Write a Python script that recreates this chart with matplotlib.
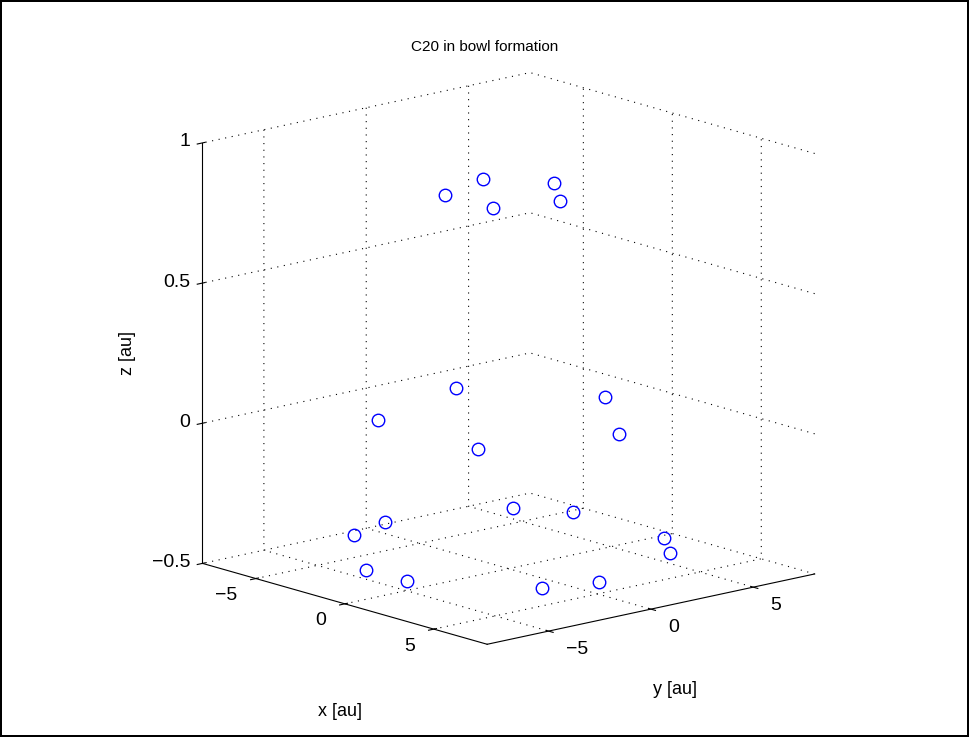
import matplotlib
matplotlib.use('Agg')
import matplotlib.pyplot as plt
from matplotlib.transforms import offset_copy

# C20 bowl atom positions [au]
x_top = [-1.34, -2.19, 1.29, -0.02, 2.14]
y_top = [-1.92, 0.64, -1.88, 2.22, 0.65]
z_top = [0.84, 0.84, 0.84, 0.84, 0.84]

x_mid = [-4.59, -2.83, 2.79, 0.00, 4.51]
y_mid = [1.42, -3.93, -3.91, 4.73, 1.47]
z_mid = [0.04, 0.04, 0.04, 0.04, 0.04]

x_rim = [-4.47, -2.59, -6.03, -5.32, -1.14, 1.15, 5.24, 5.93, 2.52, 4.33]
y_rim = [4.10, 5.41, -0.78, -2.95, -5.98, -5.97, -2.94, -0.75, 5.40, 4.10]
z_rim = [-0.43, -0.43, -0.43, -0.43, -0.43, -0.43, -0.43, -0.43, -0.43, -0.43]

xticks = [-5, 0, 5]
yticks = [-5, 0, 5]
zticks = [-0.5, 0, 0.5, 1]
xticklabels = ['\u22125', '0', '5']
yticklabels = ['\u22125', '0', '5']
zticklabels = ['\u22120.5', '0', '0.5', '1']
xlim = (-8, 8)
ylim = (-8, 8)
zlim = (-0.5, 1)

plt.rcParams['font.family'] = ['Liberation Sans', 'DejaVu Sans']

fig = plt.figure(figsize=(9.69, 7.37), dpi=100)
fig.patch.set_edgecolor('black')
fig.patch.set_linewidth(1.5)
ax = fig.add_axes([0.0356, 0.0515, 0.96, 0.9], projection='3d')
ax.set_proj_type('ortho')
ax.view_init(elev=14.3, azim=-41)
ax.set_box_aspect((1, 1, 1.0), zoom=1.1)

xs = x_top + x_mid + x_rim
ys = y_top + y_mid + y_rim
zs = z_top + z_mid + z_rim
ax.plot(xs, ys, zs, 'o', mfc='none', mec='blue', ms=9, mew=1.0, linestyle='none')

ax.set_xlim(*xlim)
ax.set_ylim(*ylim)
ax.set_zlim(*zlim)
ax.set_xticks(xticks)
ax.set_yticks(yticks)
ax.set_zticks(zticks)

for a in (ax.xaxis, ax.yaxis, ax.zaxis):
    a.set_pane_color((1, 1, 1, 0))
    a.pane.set_edgecolor('none')
    a.line.set_color('black')
    a.line.set_linewidth(0.8)
    a._axinfo['grid'].update(color='black', linewidth=0.8, linestyle=(0, (1, 5)))
    a.set_tick_params(labelbottom=False, labelleft=False)
    a.label.set_visible(False)
    a.offsetText.set_visible(False)
ax.zaxis.set_ticks_position('lower')

# tick labels placed like MATLAB does
tx = offset_copy(ax.transData, fig=fig, x=-19, y=-17, units='dots')
for t, s in zip(xticks, xticklabels):
    ax.text(t, ylim[0], zlim[0], s, transform=tx, ha='right', va='center', fontsize=14)
ty = offset_copy(ax.transData, fig=fig, x=17, y=-18, units='dots')
for t, s in zip(yticks, yticklabels):
    ax.text(xlim[1], t, zlim[0], s, transform=ty, ha='left', va='center', fontsize=14)
tz = offset_copy(ax.transData, fig=fig, x=-12, y=1, units='dots')
for t, s in zip(zticks, zticklabels):
    ax.text(xlim[0], ylim[0], t, s, transform=tz, ha='right', va='center', fontsize=14)

fig.text(340 / 969, 1 - 712 / 737, 'x [au]', ha='center', va='center', fontsize=13)
fig.text(675 / 969, 1 - 690 / 737, 'y [au]', ha='center', va='center', fontsize=13)
fig.text(128 / 969, 1 - 353 / 737, 'z [au]', ha='center', va='center', rotation=90, fontsize=13)
fig.text(485 / 969, 1 - 47 / 737, 'C20 in bowl formation', ha='center', va='center', fontsize=11)

fig.savefig('out.png', dpi=100, edgecolor='black')
